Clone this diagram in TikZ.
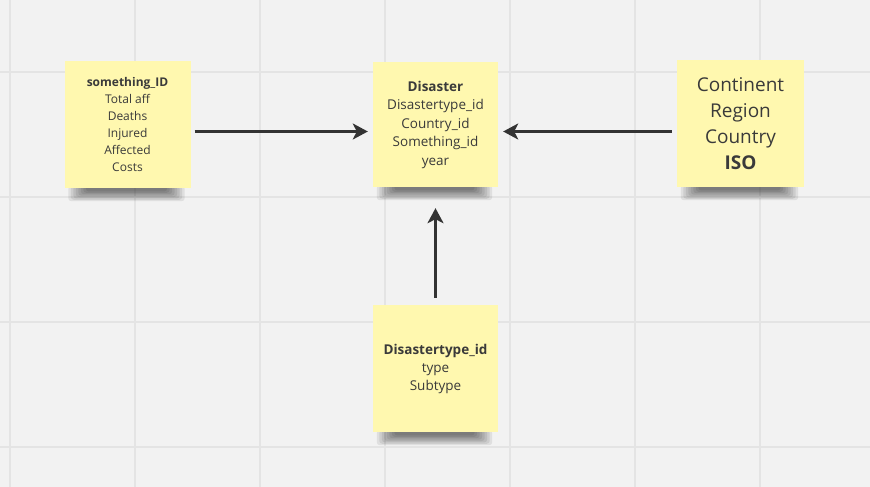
\documentclass[tikz,border=0pt]{standalone}
\usepackage{fontspec}
\setmainfont{Open Sans}
\usetikzlibrary{arrows.meta,calc}
\definecolor{board}{HTML}{F2F2F2}
\definecolor{gridline}{HTML}{E4E4E4}
\definecolor{sticky}{HTML}{FFF8AF}
\definecolor{ink}{HTML}{3A3A3A}
\definecolor{arrowgray}{HTML}{333333}
\pgfdeclarelayer{back}
\pgfsetlayers{back,main}

\begin{document}
\begin{tikzpicture}[x=1pt, y=-1pt,
    note/.style={fill=sticky, text=ink, align=center, minimum width=126pt, minimum height=127pt, inner sep=0pt},
    link/.style={draw=arrowgray, line width=2.5pt, -{Stealth[length=15pt,width=16pt,inset=4pt]}}]
    \useasboundingbox (0,0) rectangle (870,487);
    % notes
    \node[note, font=\fontsize{12}{17}\selectfont] (something) at (127.5,124.5)
        {\textbf{something\_ID}\\Total aff\\Deaths\\Injured\\Affected\\Costs};
    \node[note, minimum width=125pt, minimum height=125pt, font=\fontsize{13.5}{18.5}\selectfont] (disaster) at (435.5,124.5)
        {\textbf{Disaster}\\Disastertype\_id\\Country\_id\\Something\_id\\year};
    \node[note, minimum width=127pt, font=\fontsize{19}{26}\selectfont] (geo) at (740.5,123.5)
        {Continent\\Region\\Country\\\textbf{ISO}};
    \node[note, minimum width=125pt, font=\fontsize{13.5}{18}\selectfont] (dtype) at (435.5,368.5)
        {\textbf{Disastertype\_id}\\type\\Subtype};
    % arrows
    \coordinate (inL) at ([yshift=-7pt]disaster.west);
    \coordinate (inR) at ([yshift=-7pt]disaster.east);
    \draw[link, shorten <=4pt, shorten >=5pt] (something.east |- inL) -- (inL);
    \draw[link, shorten <=5pt, shorten >=5pt] (geo.west |- inR) -- (inR);
    \draw[link, shorten <=7pt, shorten >=21pt] (dtype.north) -- (disaster.south);
    % board, grid and shadows
    \begin{pgfonlayer}{back}
    \fill[board] (0,0) rectangle (870,487);
    \foreach \gx in {10,135,...,760} \draw[gridline, line width=1.5pt] (\gx,0) -- (\gx,487);
    \foreach \gy in {72,197,322,447} \draw[gridline, line width=1.5pt] (0,\gy) -- (870,\gy);
    \foreach \n in {something,disaster,geo,dtype}
      \foreach \i in {0,...,7}
        \fill[black, opacity=0.08, rounded corners=3pt]
          ($(\n.south west)+(4+2.5*\i,-2)$) rectangle ($(\n.south east)+(-6-2.5*\i,13-1.4*\i)$);
    \end{pgfonlayer}
\end{tikzpicture}
\end{document}
